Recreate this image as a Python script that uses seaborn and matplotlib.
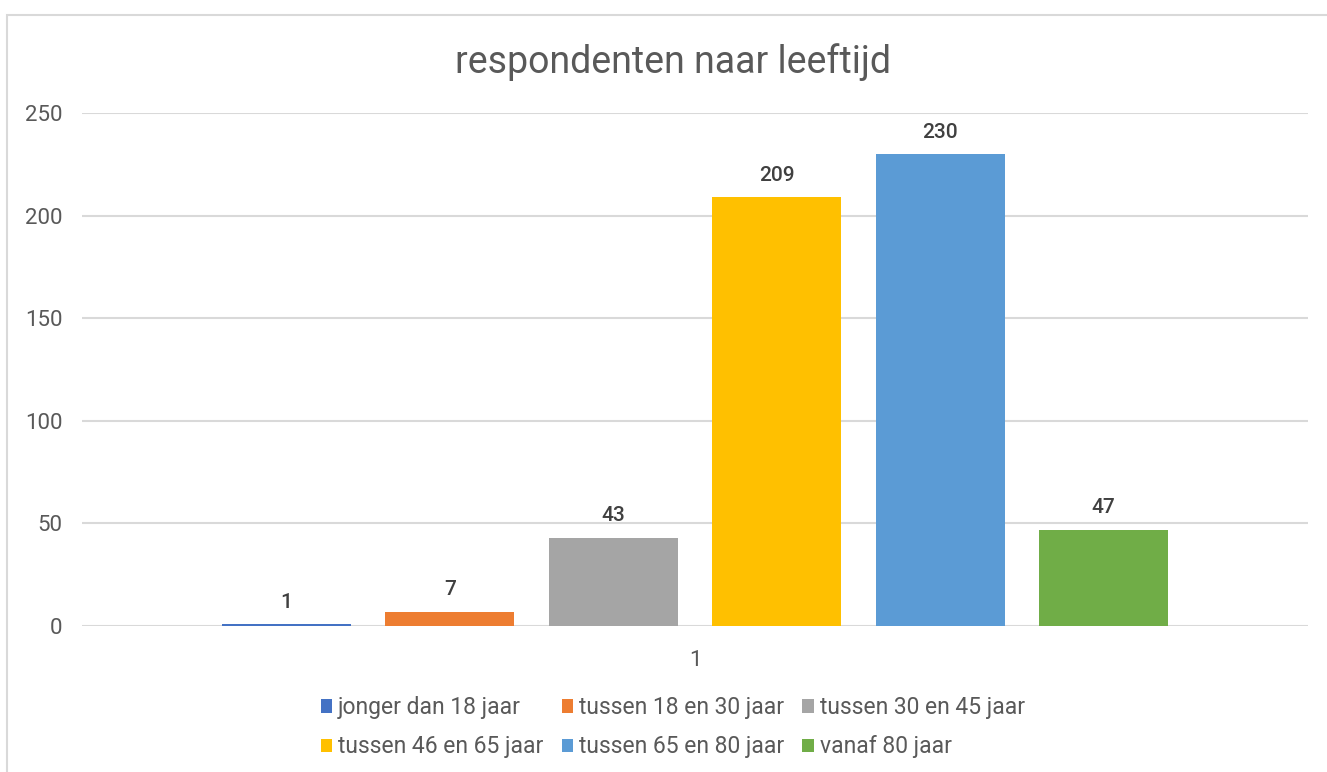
import matplotlib.pyplot as plt
import matplotlib.patches as mpatches
import seaborn as sns
import pandas as pd

# chart data
categories = ['1']
groups = ['jonger dan 18 jaar', 'tussen 18 en 30 jaar', 'tussen 30 en 45 jaar',
          'tussen 46 en 65 jaar', 'tussen 65 en 80 jaar', 'vanaf 80 jaar']
values = [1, 7, 43, 209, 230, 47]
colors = ['#4472C4', '#ED7D31', '#A5A5A5', '#FFC000', '#5B9BD5', '#70AD47']
yticks = [0, 50, 100, 150, 200, 250]

df = pd.DataFrame({'cat': categories * len(groups), 'group': groups, 'value': values})

sns.set_style('white')
plt.rcParams['font.family'] = ['Roboto', 'DejaVu Sans']

fig = plt.figure(figsize=(13.27, 7.72), dpi=100)
ax = fig.add_axes([0.0618, 0.189, 0.9239, 0.6645])

sns.barplot(data=df, x='cat', y='value', hue='group', palette=colors,
            width=0.8, gap=0.21, ax=ax, legend=True, saturation=1, linewidth=0)

for cont in ax.containers:
    ax.bar_label(cont, padding=9, fontsize=15, color='#404040', fontweight='medium')

ax.set_ylim(0, 250)
ax.set_xlim(-0.5, 0.5)
ax.set_yticks(yticks)
ax.yaxis.grid(True, color='#d9d9d9', linewidth=1.5)
ax.set_axisbelow(True)
for s in ax.spines.values():
    s.set_visible(False)
ax.tick_params(axis='both', length=0, labelsize=16, colors='#595959')
ax.tick_params(axis='y', pad=14)
ax.tick_params(axis='x', pad=17)
ax.set_xlabel('')
ax.set_ylabel('')

fig.text(0.507, 0.92, 'respondenten naar leeftijd', ha='center', va='center',
         fontsize=27, color='#595959', fontweight='normal')

# legend laid out row by row
handles, labels = ax.get_legend_handles_labels()
ax.get_legend().remove()
order = [0, 3, 1, 4, 2, 5]
fig.legend([handles[i] for i in order], [labels[i] for i in order],
           loc='upper center', bbox_to_anchor=(0.507, 0.125), ncol=3, frameon=False,
           fontsize=16.5, labelcolor='#595959', handlelength=0.5, handleheight=0.5,
           handletextpad=0.25, columnspacing=0.8, labelspacing=0.7, borderpad=0.4)

# chart border
fig.patches.append(mpatches.Rectangle((7 / 1327, -0.1), 1.1, 1.1 - 15 / 772,
                                      transform=fig.transFigure, fill=False,
                                      edgecolor='#d9d9d9', linewidth=1.5))

fig.savefig('out.png', dpi=100)
